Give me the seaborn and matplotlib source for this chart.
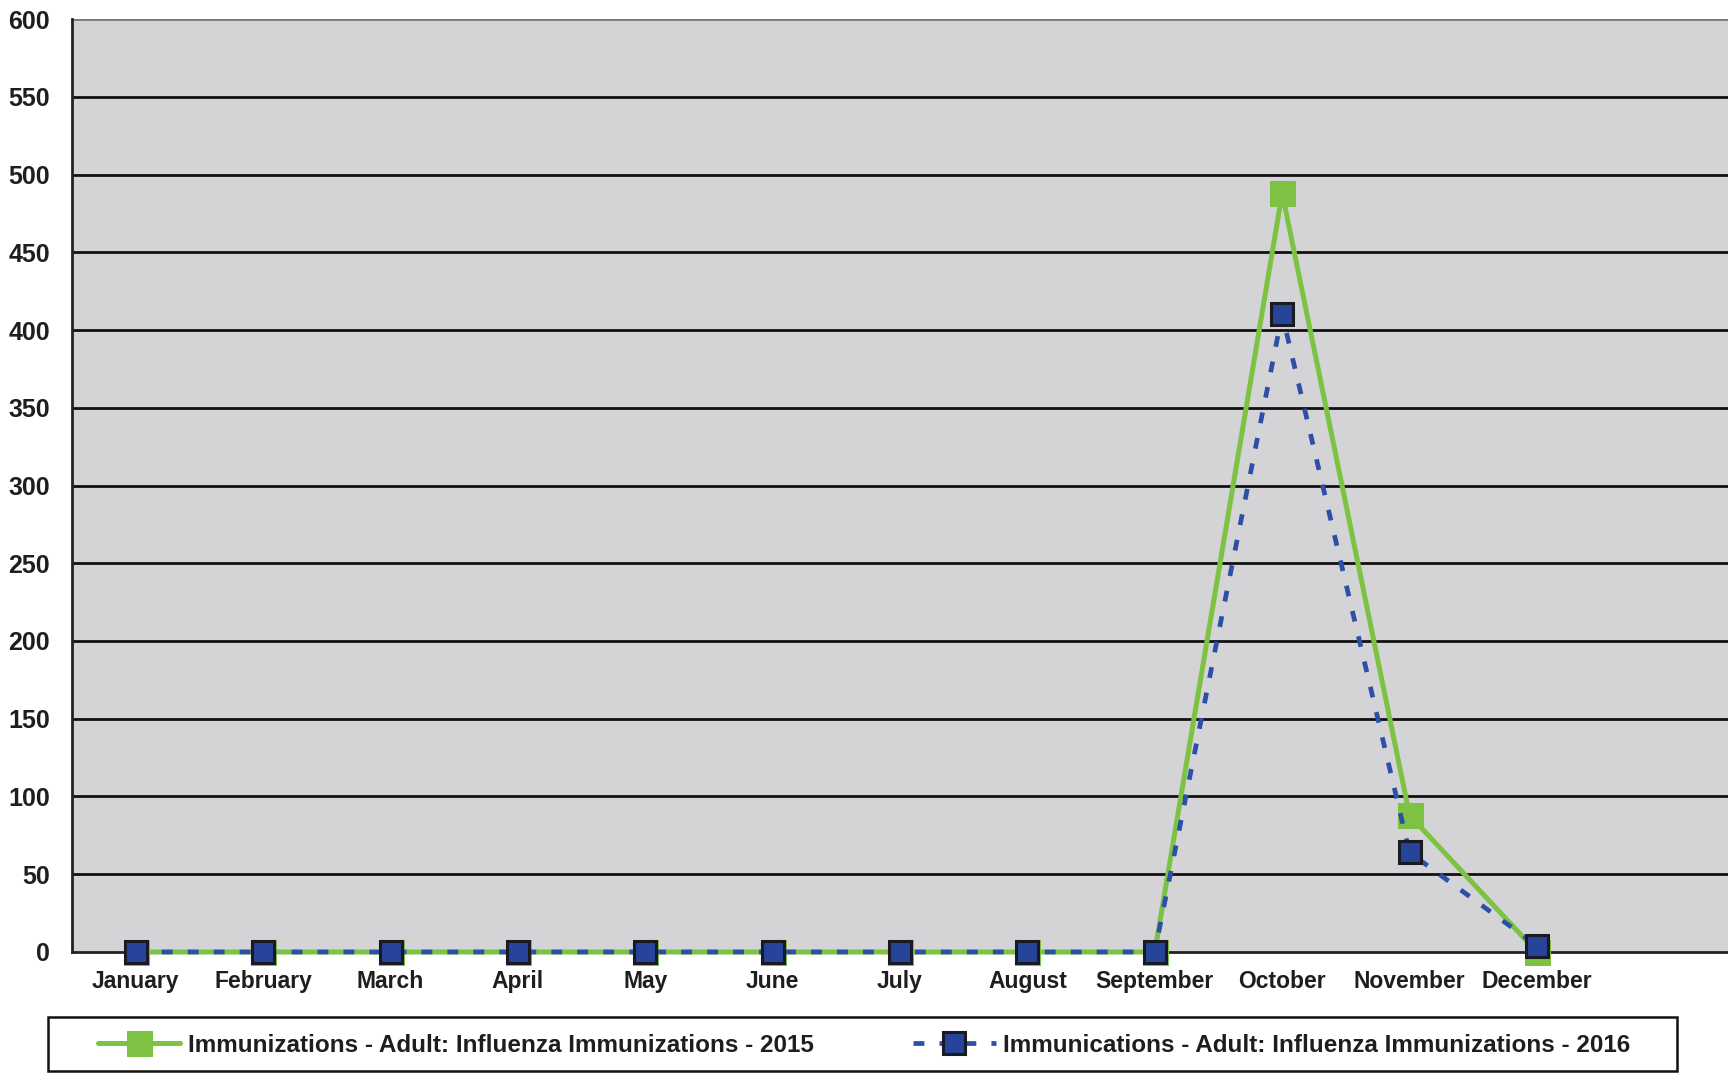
import matplotlib.pyplot as plt
import numpy as np
import pandas as pd
import seaborn as sns
from matplotlib.patches import Rectangle

months = ["January", "February", "March", "April", "May", "June", "July",
          "August", "September", "October", "November", "December"]
flu_2015 = [0, 0, 0, 0, 0, 0, 0, 0, 0, 488, 88, 0]
flu_2016 = [0, 0, 0, 0, 0, 0, 0, 0, 0, 410, 64, 4]
label_2015 = "Immunizations - Adult: Influenza Immunizations - 2015"
label_2016 = "Immunications - Adult: Influenza Immunizations - 2016"

df = pd.DataFrame({
    "idx": list(range(len(months))) * 2,
    "value": flu_2015 + flu_2016,
    "series": [label_2015] * len(months) + [label_2016] * len(months),
})

sns.set_theme(style="white")
plt.rcParams["font.family"] = ["Liberation Sans", "DejaVu Sans"]

fig = plt.figure(figsize=(17.28, 10.74), dpi=100)
ax = fig.add_axes([0.0417, 0.1136, 0.9583, 0.8687])
ax.set_facecolor("#d4d4d6")

green = "#7dc242"
blue = "#2c4fa8"

sns.lineplot(data=df[df.series == label_2015], x="idx", y="value", ax=ax,
             color=green, linewidth=3.6, marker="s", markersize=18,
             markerfacecolor=green, markeredgecolor=green, label=label_2015,
             zorder=3, clip_on=False)
sns.lineplot(data=df[df.series == label_2016], x="idx", y="value", ax=ax,
             color=blue, linewidth=3.4, linestyle=(0, (2.3, 3.2)), marker="s",
             markersize=16, markerfacecolor="#26449a", markeredgecolor="#1a1a22",
             markeredgewidth=2.2, label=label_2016, zorder=4, clip_on=False)

ax.set_xlim(-0.5, 12.5)
ax.set_ylim(0, 600)
ax.set_yticks(np.arange(0, 601, 50))
ax.set_xticks(range(len(months)))
ax.set_xticklabels(months)
ax.set_xticks(np.arange(-0.5, 12, 1), minor=True)
ax.tick_params(axis="x", which="major", length=0, pad=13, labelsize=16.5)
ax.tick_params(axis="x", which="minor", length=9, width=1.8, color="#111111",
               direction="out")
ax.tick_params(axis="y", length=9, width=1.8, color="#111111", direction="out",
               pad=7, labelsize=18)
for lab in ax.get_xticklabels() + ax.get_yticklabels():
    lab.set_fontweight("bold")
    lab.set_color("#1e1e1e")

for v in np.arange(50, 601, 50):
    ax.axhline(v, color="#111111" if v < 600 else "#777777", linewidth=2,
               zorder=1)

ax.set_xlabel("")
ax.set_ylabel("")
for side in ["top", "right"]:
    ax.spines[side].set_visible(False)
for side in ["left", "bottom"]:
    ax.spines[side].set_color("#222222")
    ax.spines[side].set_linewidth(2)

# legend: entries without frame, box drawn separately to match the wide outline
handles, labels = ax.get_legend_handles_labels()
ax.get_legend().remove()
leg = fig.legend(handles, labels, loc="center", bbox_to_anchor=(0.5, 0.027),
                 ncol=2, frameon=False, fontsize=17.5, handlelength=3.4,
                 handletextpad=0.3, columnspacing=4.1)
for t in leg.get_texts():
    t.set_color("#1e1e1e")
    t.set_fontweight("bold")
fig.patches.append(Rectangle((0.0278, 0.0025), 0.9427, 0.0506,
                             transform=fig.transFigure, fill=False,
                             edgecolor="#111111", linewidth=1.8))

fig.savefig("out.png", dpi=100, facecolor="white")
